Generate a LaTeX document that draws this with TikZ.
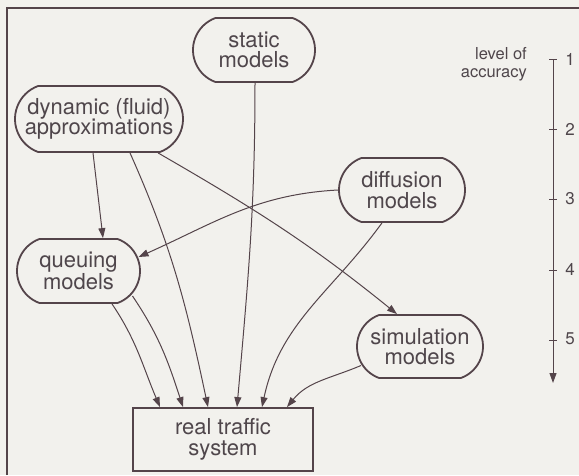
\documentclass[tikz,border=0pt]{standalone}
\usepackage{fontspec}
\setmainfont{TeX Gyre Heros}
\usetikzlibrary{arrows.meta,shapes.misc}
\definecolor{ink}{HTML}{54444A}
\definecolor{txt}{HTML}{4F464B}
\definecolor{paper}{HTML}{F2F1ED}

\begin{document}
\begin{tikzpicture}[x=1pt,y=1pt,
    model/.style={draw=ink,line width=1.8pt,rounded rectangle,rounded rectangle arc length=140,align=center,text=txt,inner sep=0pt,font=\fontsize{22}{20.5}\selectfont},
    realbox/.style={draw=ink,line width=1.8pt,align=center,text=txt,inner sep=0pt,font=\fontsize{22}{20.5}\selectfont},
    link/.style={draw=ink,line width=1pt,-{Triangle[length=10pt,width=7pt]}},
    scalelabel/.style={text=txt,inner sep=0pt,font=\fontsize{17}{18}\selectfont}]
    \fill[paper](0,0)rectangle(579,475);
    \useasboundingbox(0,0)rectangle(579,475);
    \draw[ink,line width=1.2pt](7,0)--(7,467)--(579,467);

    \node[model,minimum width=122pt,minimum height=64pt](static)at(254,425){static\\models};
    \node[model,minimum width=168pt,minimum height=66pt](dyn)at(99,356){dynamic (fluid)\\approximations};
    \node[model,minimum width=126pt,minimum height=64pt](diff)at(402,285){diffusion\\models};
    \node[model,minimum width=123pt,minimum height=64pt](queue)at(78.5,204){queuing\\models};
    \node[model,minimum width=126pt,minimum height=63pt](sim)at(420,128.5){simulation\\models};
    \node[realbox,minimum width=180pt,minimum height=63pt](real)at(223,35.5){real traffic\\system};

    \draw[link]([xshift=-6pt]dyn.south)--([xshift=24.5pt]queue.north);
    \draw[link]([xshift=31pt]dyn.south)to[out=-66,in=102]([xshift=-15pt]real.north);
    \draw[link]([xshift=59pt]dyn.south)to[out=-30,in=141]([xshift=-23pt]sim.north);
    \draw[link]([xshift=1pt]static.south)to[out=-90,in=85]([xshift=14pt]real.north);
    \draw[link](diff.west)to[out=183,in=24]([shift={(60pt,14pt)}]queue.center);
    \draw[link]([xshift=-20pt]diff.south)to[out=234,in=78]([xshift=39pt]real.north);
    \draw[link]([xshift=33.5pt]queue.south)to[out=-56,in=113]([xshift=-63pt]real.north);
    \draw[link]([shift={(54pt,-25pt)}]queue.center)to[out=-56,in=108]([xshift=-40pt]real.north);
    \draw[link]([shift={(-59pt,-19pt)}]sim.center)to[out=203,in=51]([xshift=64pt]real.north);

    \node[text=txt,inner sep=0pt,align=right,anchor=east,font=\fontsize{16.5}{18}\selectfont](acc)at(527,411){level of\\accuracy};
    \coordinate(scaletop)at(553,415);
    \coordinate(scalebot)at(553,92);
    \draw[link](scaletop)--(scalebot);
    \foreach \k/\yy in {1/415,2/345,3/275,4/205,5/135}{
        \coordinate(t\k)at(553,\yy);
        \draw[ink,line width=1pt]([xshift=-4pt]t\k)--([xshift=4pt]t\k);
        \node[scalelabel](n\k)at(570,\yy+1){\k};
    }
\end{tikzpicture}
\end{document}
